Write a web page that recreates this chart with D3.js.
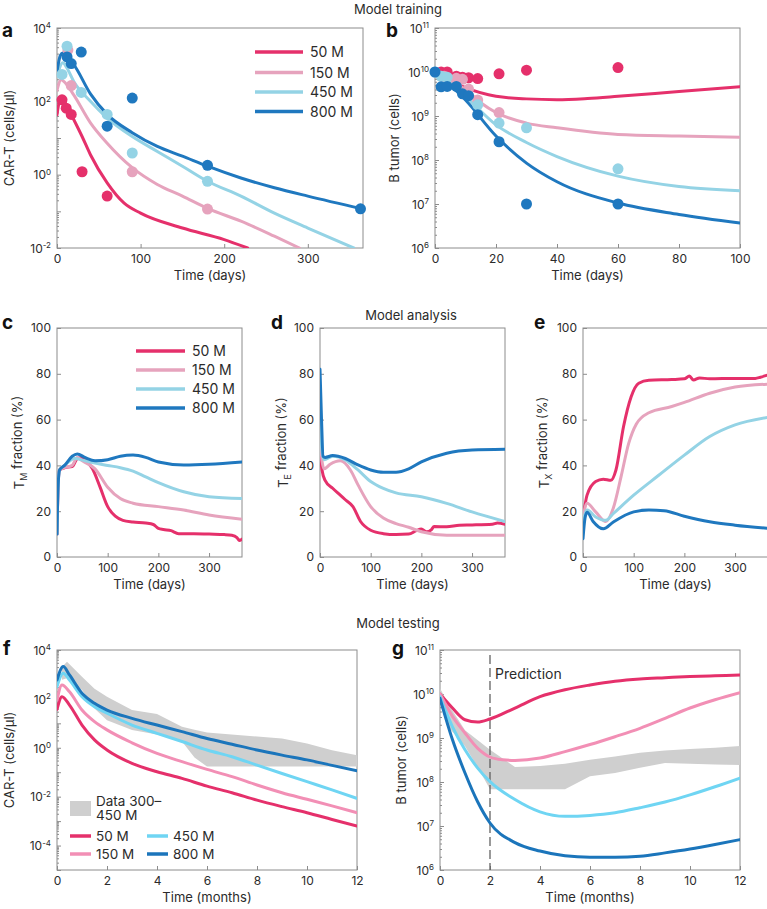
<!DOCTYPE html>
<html><head><meta charset="utf-8">
<script src="https://cdn.jsdelivr.net/npm/d3@7"></script>
<style>body{margin:0;background:#fff;} svg{display:block;font-family:Inter,"Noto Sans",sans-serif;}</style>
</head><body><svg id="chart" width="767" height="909"></svg>
<script>
// ---------------- DATA ----------------
const doses = ["50 M","150 M","450 M","800 M"];
const colorsTrain = ["#e5306b","#e6a3bd","#94d3e5","#1f78bf"];
const colorsTest  = ["#e5306b","#f28fb5","#6fd5f3","#1b75bb"];
const titles = ["Model training","Model analysis","Model testing"];

// a: CAR-T (cells/ul) vs days — model curves [day, value]
const aCurves = [
  [[0,43],[3,100],[5,110],[10,89],[20,32],[30,11],[40,3.5],[60,0.6],[80,0.17],[100,0.089],[150,0.035],[200,0.017],[228,0.01]],
  [[0,200],[5,390],[10,316],[20,150],[40,26],[60,7.2],[90,1.55],[120,0.54],[150,0.26],[180,0.12],[220,0.054],[260,0.021],[290,0.01]],
  [[0,480],[7,1120],[12,800],[20,350],[40,100],[60,35],[90,11],[120,4.3],[150,1.7],[180,0.66],[220,0.26],[260,0.089],[300,0.035],[355,0.01]],
  [[0,660],[4,1780],[7,2090],[12,1580],[20,1000],[40,160],[60,44],[90,14],[120,5.9],[150,3.2],[180,1.7],[220,0.81],[260,0.44],[300,0.26],[365,0.117]]
];
// a: observed points [day, value]
const aPoints = [
  [[6,110],[11,65],[17,44],[30,1.2],[60,0.26]],
  [[13,2500],[17,270],[90,1.2],[180,0.115]],
  [[6,540],[12,3200],[29,175],[60,44],[90,3.9],[180,0.66]],
  [[12,1620],[17,1070],[29,2200],[60,21],[90,123],[180,1.8],[363,0.117]]
];
// b: B tumor (cells) vs days
const bCurves = [
  [[0,1e10],[5,6.3e9],[10,4.4e9],[20,2.8e9],[30,2.45e9],[40,2.35e9],[50,2.5e9],[60,2.8e9],[80,3.6e9],[100,4.6e9]],
  [[0,1e10],[5,6.2e9],[10,4e9],[15,2e9],[20,1.2e9],[30,6.9e8],[40,5.4e8],[60,3.8e8],[80,3.5e8],[100,3.3e8]],
  [[0,1e10],[5,5.5e9],[10,2.8e9],[20,6.3e8],[30,2.5e8],[40,1.2e8],[60,4.3e7],[80,2.5e7],[100,2e7]],
  [[0,1e10],[5,5e9],[10,2.3e9],[20,3.5e8],[30,8.5e7],[40,3.2e7],[60,1.05e7],[80,5.8e6],[100,3.7e6]]
];
const bPoints = [
  [[2,1e10],[4,1e10],[7,8e9],[9,7.6e9],[11,7.4e9],[14,7.1e9],[21,9.1e9],[30,1.1e10],[60,1.26e10]],
  [[3,8e9],[7,7.2e9],[9,6.8e9],[11,4.1e9],[14,2.3e9],[21,1.2e9]],
  [[0,1e10],[2,8e9],[4,7.6e9],[14,1.8e9],[21,6.9e8],[30,5.4e8],[60,6.3e7]],
  [[0,1e10],[2,4.6e9],[4,4.7e9],[7,4.7e9],[9,3.2e9],[11,2.9e9],[14,1.07e9],[21,2.6e8],[30,1e7],[60,1e7]]
];
// c: T_M fraction (%)
const cTM = [
  [[0,10],[2,30],[5,38],[15,39],[30,39.5],[40,43],[50,43.5],[60,41.5],[70,38.5],[85,30.5],[100,22],[115,17.8],[130,16],[150,15.3],[175,14.8],[190,14.2],[200,12.5],[210,12],[225,11.5],[240,10.2],[270,10.2],[300,10],[330,9.8],[345,9.5],[355,8.5],[360,7.2],[365,7.8]],
  [[0,10],[2,30],[5,38],[15,39],[30,40],[40,43.5],[50,42],[75,38.5],[100,30.5],[125,25.5],[150,23.5],[200,22],[250,20.5],[300,18.3],[365,16.5]],
  [[0,10],[2,30],[5,38],[15,40],[35,43],[55,42],[75,41],[100,40],[125,39],[150,37.5],[175,35],[200,32.5],[250,28.5],[300,26.3],[365,25.5]],
  [[0,10],[2,30],[5,38],[15,40],[30,44],[40,45],[55,43.5],[75,42],[100,42.5],[125,44],[150,44.5],[175,43.5],[200,41.5],[250,40.2],[300,40.5],[365,41.5]]
];
// d: T_E fraction (%)
const dTE = [
  [[0,47],[4,38],[10,33.5],[25,30],[40,27],[50,25],[65,22],[80,15.5],[100,11.7],[125,10.2],[150,9.8],[175,10],[190,11.5],[200,12.2],[210,11],[220,12],[225,13.3],[250,13.2],[275,13.9],[300,14],[340,14.3],[350,14.8],[365,14.3]],
  [[0,55],[4,42],[8,38.5],[20,40.5],[40,42],[60,38],[75,31.5],[100,22],[125,17],[150,14.6],[175,13],[200,11],[250,9.5],[365,9.5]],
  [[0,60],[4,46],[8,42.5],[25,44],[50,42.4],[75,38],[100,33],[125,30],[150,28],[200,26.3],[250,23.4],[300,19.7],[365,15.5]],
  [[0,82],[3,60],[6,44],[10,43.5],[25,44.3],[50,43],[75,40.2],[100,38],[125,37],[150,37],[175,38.5],[200,41.5],[250,45.3],[300,46.7],[365,47]]
];
// e: T_X fraction (%)
const eTX = [
  [[0,17],[8,27],[25,33],[40,34],[55,33.5],[65,38],[80,57],[95,70],[110,75.9],[130,77.2],[175,77.5],[200,77.8],[210,79],[218,77.3],[230,78.2],[250,77.8],[300,78],[340,78],[350,78.5],[365,79.5]],
  [[0,17],[8,23.5],[25,19.7],[45,15.5],[60,21.5],[75,35],[90,49.5],[105,58],[130,63],[175,65.7],[200,67.5],[250,71.5],[300,74.2],[365,75.5]],
  [[0,15],[8,20.5],[25,17.5],[45,16],[60,19],[100,27],[150,35.8],[200,44.5],[250,52.6],[300,57.7],[365,61]],
  [[0,8],[4,17],[8,19.5],[20,15.5],[40,12.3],[60,15.3],[100,19.7],[130,20.5],[160,20.2],[200,17.8],[250,15.4],[300,13.9],[365,12.5]]
];
// f: CAR-T (cells/ul) vs months
const fCurves = [
  [[0,37],[0.2,123],[0.5,56],[1,8.5],[1.5,2.1],[2,0.81],[3,0.23],[4,0.105],[5,0.056],[6,0.027],[7,0.0145],[8,0.0072],[9,0.0039],[10,0.0022],[11,0.00117],[12,0.00063]],
  [[0,89],[0.2,370],[0.5,195],[1,35],[1.5,11.7],[2,5.4],[3,1.6],[4,0.59],[5,0.27],[6,0.13],[7,0.066],[8,0.03],[9,0.0145],[10,0.0078],[11,0.0042],[12,0.0022]],
  [[0,320],[0.25,1120],[0.5,590],[1,123],[1.5,48],[2,26],[3,8.5],[4,3.9],[5,1.8],[6,0.81],[7,0.43],[8,0.195],[9,0.089],[10,0.041],[11,0.019],[12,0.0085]],
  [[0,590],[0.25,2090],[0.5,950],[1,170],[1.5,66],[2,35],[3,16],[4,8.5],[5,4.6],[6,2.4],[7,1.4],[8,0.81],[9,0.5],[10,0.32],[11,0.19],[12,0.115]]
];
// f: data band 300–450 M [month, low, high]
const fBand = [[0.2,600,2000],[0.4,700,3300],[1,230,800],[1.5,40,260],[2,13.5,123],[3,5.4,35],[4,3.5,24],[5,1.8,7.2],[5.5,0.4,5.5],[6,0.17,4.2],[9,0.17,2.4],[10,0.17,1.5],[11,0.17,0.8],[12,0.17,0.5]];
// g: B tumor (cells) vs months
const gCurves = [
  [[0,1e10],[0.5,4.8e9],[1,2.6e9],[1.5,2.3e9],[2,2.7e9],[3,4.8e9],[4,8.7e9],[5,1.25e10],[6,1.6e10],[7,1.95e10],[8,2.2e10],[9,2.35e10],[10,2.5e10],[11,2.6e10],[12,2.7e10]],
  [[0,1e10],[0.5,3.1e9],[1,1.3e9],[1.5,5.9e8],[2,3.7e8],[2.5,3.2e8],[3,3.1e8],[4,3.5e8],[5,4.9e8],[6,7.1e8],[7,1.07e9],[8,1.66e9],[9,2.8e9],[10,4.8e9],[11,7.4e9],[12,1.07e10]],
  [[0,8.7e9],[0.5,1.8e9],[1,5.4e8],[1.5,2.1e8],[2,1.02e8],[3,4e7],[4,2.1e7],[5,1.66e7],[6,1.74e7],[7,2e7],[8,2.6e7],[9,3.5e7],[10,5.1e7],[11,7.8e7],[12,1.23e8]],
  [[0,8e9],[0.5,9.1e8],[1,1.6e8],[1.5,3.6e7],[2,1.17e7],[3,4.2e6],[4,2.7e6],[5,2.1e6],[6,1.95e6],[7,1.95e6],[8,2.05e6],[9,2.45e6],[10,3e6],[11,3.8e6],[12,4.9e6]]
];
const gBand = [[0,7.4e9,1.35e10],[0.4,1.6e9,5.1e9],[1,6.5e8,1.5e9],[1.5,2.2e8,9e8],[2,6.8e7,5.4e8],[3,6.8e7,2.2e8],[4,6.8e7,2.3e8],[5,6.8e7,2.6e8],[6,1.35e8,3.2e8],[7,1.6e8,3.8e8],[8,2.1e8,4.6e8],[9,2.7e8,5.2e8],[10,2.6e8,5.6e8],[11,2.5e8,6e8],[12,2.45e8,6.6e8]];
const predictionMonth = 2;

const daysTicks = [0,100,200,300];
const bDaysTicks = [0,20,40,60,80,100];
const pctTicks = [0,20,40,60,80,100];
const monthTicks = [0,2,4,6,8,10,12];

// ---------------- DRAWING ----------------
const svg = d3.select("#chart");
const FRAME = "#8c8c8c", TXT = "#2b2b2b";

function panel(p){
  const g = svg.append("g");
  const x = d3.scaleLinear().domain(p.xDomain).range([p.x0,p.x1]);
  const y = (p.log ? d3.scaleLog() : d3.scaleLinear()).domain(p.yDomain).range([p.y1,p.y0]);
  const id = "clip-"+p.letter;
  svg.append("clipPath").attr("id",id).append("rect")
    .attr("x",p.x0).attr("y",p.y0).attr("width",p.x1-p.x0).attr("height",p.y1-p.y0);
  const xa = g.append("g").attr("transform",`translate(0,${p.y1})`)
    .call(d3.axisBottom(x).tickValues(p.xTicks).tickSize(-4).tickPadding(6).tickFormat(d3.format("d")));
  styleAxis(xa);
  if(p.log){
    const lo = Math.round(Math.log10(p.yDomain[0])), hi = Math.round(Math.log10(p.yDomain[1]));
    const minors = [];
    for(let e=lo;e<hi;e++) for(let k=2;k<10;k++) minors.push(k*Math.pow(10,e));
    const ym = g.append("g").attr("transform",`translate(${p.x0},0)`)
      .call(d3.axisLeft(y).tickValues(minors).tickSize(-2).tickFormat(()=>""));
    styleAxis(ym);
    const majors = d3.range(lo,hi+1).map(e=>Math.pow(10,e));
    const ya = g.append("g").attr("transform",`translate(${p.x0},0)`)
      .call(d3.axisLeft(y).tickValues(majors).tickSize(-4).tickPadding(6).tickFormat(()=>""));
    styleAxis(ya);
    const step = p.labelStep || 1;
    ya.selectAll(".tick text").each(function(d){
      const e = Math.round(Math.log10(d));
      if((hi-e) % step !== 0) return;
      const t = d3.select(this).attr("dy","0.36em");
      t.append("tspan").text("10");
      t.append("tspan").attr("dy","-0.55em").attr("font-size","8px").text(e<0 ? "-"+(-e) : e);
    });
  } else {
    const ya = g.append("g").attr("transform",`translate(${p.x0},0)`)
      .call(d3.axisLeft(y).tickValues(p.yTicks).tickSize(-4).tickPadding(6).tickFormat(d3.format("d")));
    styleAxis(ya);
  }
  g.append("rect").attr("x",p.x0).attr("y",p.y0).attr("width",p.x1-p.x0).attr("height",p.y1-p.y0)
    .attr("fill","none").attr("stroke",FRAME).attr("stroke-width",1);
  g.append("text").attr("x",(p.x0+p.x1)/2).attr("y",p.y1+32).attr("text-anchor","middle")
    .attr("font-size",13).attr("fill",TXT).text(p.xTitle);
  const yt = g.append("text").attr("transform",`translate(${p.yTitleX},${(p.y0+p.y1)/2}) rotate(-90)`)
    .attr("text-anchor","middle").attr("dy","0.35em").attr("font-size",13).attr("fill",TXT);
  p.yTitle.forEach(s=>{
    const ts = yt.append("tspan").text(s.t);
    if(s.sub){ ts.attr("font-size","9px").attr("dy","0.35em"); }
    else if(s.after){ ts.attr("dy","-0.35em"); }
  });
  g.append("text").attr("x",p.lx).attr("y",p.ly).attr("font-size",19).attr("font-weight","bold")
    .attr("fill","#111").attr("dy","0.35em").text(p.letter);
  const plot = g.append("g").attr("clip-path",`url(#${id})`);
  return {g, plot, x, y};
}
function styleAxis(a){
  a.attr("font-family",null).attr("font-size",12);
  a.select(".domain").remove();
  a.selectAll(".tick line").attr("stroke",FRAME);
  a.selectAll(".tick text").attr("fill",TXT);
}
function drawLines(P, curves, colors){
  const line = d3.line().x(d=>P.x(d[0])).y(d=>P.y(d[1])).curve(d3.curveMonotoneX);
  curves.forEach((c,i)=>{
    P.plot.append("path").datum(c).attr("d",line).attr("fill","none")
      .attr("stroke",colors[i]).attr("stroke-width",3).attr("stroke-linecap","round").attr("stroke-linejoin","round");
  });
}
function drawPoints(P, pts, colors){
  pts.forEach((s,i)=>{
    P.g.append("g").selectAll("circle").data(s).join("circle")
      .attr("cx",d=>P.x(d[0])).attr("cy",d=>P.y(d[1])).attr("r",5.5).attr("fill",colors[i]);
  });
}
function drawBand(P, band){
  const area = d3.area().x(d=>P.x(d[0])).y0(d=>P.y(d[1])).y1(d=>P.y(d[2])).curve(d3.curveLinear);
  P.plot.append("path").datum(band).attr("d",area).attr("fill","#cfcfcf");
}
function legend(x1,x2,tx,ys,colors,size){
  doses.forEach((d,i)=>{
    svg.append("line").attr("x1",x1).attr("x2",x2).attr("y1",ys[i]).attr("y2",ys[i])
      .attr("stroke",colors[i]).attr("stroke-width",3.5);
    svg.append("text").attr("x",tx).attr("y",ys[i]).attr("dy","0.36em").attr("font-size",size)
      .attr("fill",TXT).text(d);
  });
}

[[398,9],[411,315],[398,623]].forEach((p,i)=>{
  svg.append("text").attr("x",p[0]).attr("y",p[1]).attr("dy","0.35em").attr("text-anchor","middle")
    .attr("font-size",13).attr("fill",TXT).text(titles[i]);
});

// ---- a ----
const A = panel({letter:"a",lx:2,ly:30,x0:57,x1:363,y0:28,y1:248,xDomain:[0,366],yDomain:[1e-2,1e4],log:true,labelStep:2,
  xTicks:daysTicks,xTitle:"Time (days)",yTitleX:9,yTitle:[{t:"CAR-T (cells/μl)"}]});
drawLines(A,aCurves,colorsTrain);
drawPoints(A,aPoints,colorsTrain);
legend(255,303,310,[52,72.5,92,111.5],colorsTrain,14);

// ---- b ----
const B = panel({letter:"b",lx:386,ly:30,x0:435,x1:740,y0:28,y1:248,xDomain:[0,100],yDomain:[1e6,1e11],log:true,
  xTicks:bDaysTicks,xTitle:"Time (days)",yTitleX:394,yTitle:[{t:"B tumor (cells)"}]});
drawLines(B,bCurves,colorsTrain);
drawPoints(B,bPoints,colorsTrain);

// ---- c, d, e ----
const cdeDefs = [
  {letter:"c",lx:2,ly:322,x0:57,yTitleX:19,sub:"M",data:cTM},
  {letter:"d",lx:271,ly:322,x0:320,yTitleX:283,sub:"E",data:dTE},
  {letter:"e",lx:534,ly:322,x0:583,yTitleX:544,sub:"X",data:eTX}
];
cdeDefs.forEach(def=>{
  const P = panel({letter:def.letter,lx:def.lx,ly:def.ly,x0:def.x0,x1:def.x0+185,y0:328,y1:557,xDomain:[0,365],yDomain:[0,100],
    log:false,xTicks:daysTicks,yTicks:pctTicks,xTitle:"Time (days)",yTitleX:def.yTitleX,
    yTitle:[{t:"T"},{t:def.sub,sub:true},{t:" fraction (%)",after:true}]});
  drawLines(P,def.data,colorsTrain);
});
legend(136,185,192,[351,370,389,408],colorsTrain,14);

// ---- f ----
const F = panel({letter:"f",lx:3,ly:648,x0:57,x1:357,y0:650,y1:870,xDomain:[0,12],yDomain:[1e-5,1e4],log:true,labelStep:2,
  xTicks:monthTicks,xTitle:"Time (months)",yTitleX:9,yTitle:[{t:"CAR-T (cells/μl)"}]});
drawBand(F,fBand);
drawLines(F,fCurves,colorsTest);
svg.append("rect").attr("x",70).attr("y",801).attr("width",21).attr("height",15).attr("fill","#cfcfcf");
svg.append("text").attr("x",96).attr("y",801).attr("dy","0.36em").attr("font-size",13.5).attr("fill",TXT).text("Data 300–");
svg.append("text").attr("x",96).attr("y",815.5).attr("dy","0.36em").attr("font-size",13.5).attr("fill",TXT).text("450 M");
[[70,91,96,836],[70,91,96,854],[147,168,173,836],[147,168,173,854]].forEach((r,i)=>{
  svg.append("line").attr("x1",r[0]).attr("x2",r[1]).attr("y1",r[3]).attr("y2",r[3]).attr("stroke",colorsTest[i]).attr("stroke-width",3.5);
  svg.append("text").attr("x",r[2]).attr("y",r[3]).attr("dy","0.36em").attr("font-size",13.5).attr("fill",TXT).text(doses[i]);
});

// ---- g ----
const G = panel({letter:"g",lx:392,ly:648,x0:440,x1:740,y0:650,y1:870,xDomain:[0,12],yDomain:[1e6,1e11],log:true,
  xTicks:monthTicks,xTitle:"Time (months)",yTitleX:401,yTitle:[{t:"B tumor (cells)"}]});
drawBand(G,gBand);
G.plot.append("line").attr("x1",G.x(predictionMonth)).attr("x2",G.x(predictionMonth)).attr("y1",655).attr("y2",870)
  .attr("stroke","#555").attr("stroke-width",1.2).attr("stroke-dasharray","9,4");
drawLines(G,gCurves,colorsTest);
G.g.append("text").attr("x",G.x(predictionMonth)+5).attr("y",674).attr("dy","0.36em").attr("font-size",14)
  .attr("fill",TXT).text("Prediction");
</script></body></html>
